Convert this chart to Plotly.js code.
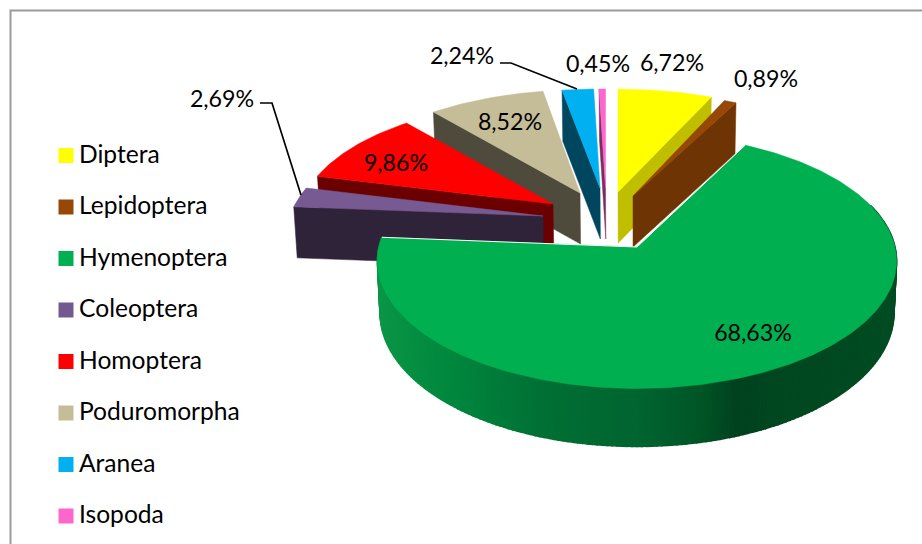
<!DOCTYPE html>
<html>
<head>
<meta charset="utf-8">
<script src="https://cdn.plot.ly/plotly-3.0.1.min.js"></script>
<style>html,body{margin:0;padding:0;background:#fff}#c{width:922px;height:544px}</style>
</head>
<body>
<div id="c"></div>
<script>
// ---- data ----
var categories = ['Diptera','Lepidoptera','Hymenoptera','Coleoptera','Homoptera','Poduromorpha','Aranea','Isopoda'];
var values = [6.72,0.89,68.63,2.69,9.86,8.52,2.24,0.45];

// ---- styles ----
var topColors = ['#FFFF00','#974706','#00B050','#775A92','#FF0000','#C4BD97','#00B0F0','#FF66CC'];
var wallColors = ['#BFBF00','#6F3403','','#2E2339','#6B0000','#4F4B3C','#00465F','#7A2C60'];
var legendColors = ['#FFFF00','#974706','#00B050','#725990','#FF0000','#C4BD97','#00B0F0','#FF66CC'];

// ---- placement of exploded slices (pixel-valued axes) ----
var apexX = [618,633,637,543,553,580,600,605.5];
var apexY = [192,196,247,216,204,193,188,188];
var sliceScale = [1,0.98,1,0.98,0.975,0.975,1,1];
var slicePersp = [0.146,0.146,0.11,0.146,0.146,0.146,0.146,0.146];
var sliceSquash = [0.457,0.469,0.488,0.469,0.469,0.469,0.44,0.44];
var labelX = [672,766,753,222,396,510,462,598];
var labelY = [65,81,335,101,165,124,58,66];
var drawOrder = [0,1,7,6,5,4,3,2];
var radius = 258, depth = 51, font = 'Lato, Carlito, Calibri, sans-serif';

var total = values.reduce(function(a,b){return a+b;},0);
var starts = [], acc = 0;
values.forEach(function(v){ starts.push(acc); acc += v/total*360; });

function proj(i, deg){
  var t = deg*Math.PI/180, c = Math.cos(t), s = 1/(1+slicePersp[i]*c), r = radius*sliceScale[i];
  return [apexX[i]+r*Math.sin(t)*s, apexY[i]-r*sliceSquash[i]*c*s];
}
function drop(p, deg){
  var c = Math.cos(deg*Math.PI/180);
  return [637+(p[0]-637)*0.99, p[1]+depth+7*Math.max(0,-c)];
}
function poly(pts, fill, line, lw){
  var xs = pts.map(function(p){return p[0];}), ys = pts.map(function(p){return p[1];});
  xs.push(xs[0]); ys.push(ys[0]);
  return {type:'scatter',mode:'lines',x:xs,y:ys,fill:'toself',fillcolor:fill,
          line:{color:line||fill,width:lw===undefined?0.5:lw},hoverinfo:'skip',showlegend:false};
}
function apexDrop(i){ return [637+(apexX[i]-637)*0.99, apexY[i]+depth]; }

// shading of the round wall, by horizontal position
var shadeX = [378,450,540,640,700,735,790,897];
var shadeR = [10,0,0,0,0,0,0,0];
var shadeG = [150,135,112,100,85,66,72,76];
var shadeB = [70,62,52,48,38,30,32,34];
function lerp(xs, ys, x){
  for (var k=0;k<xs.length-1;k++){ if (x<=xs[k+1]) { var f=Math.max(0,(x-xs[k])/(xs[k+1]-xs[k])); return ys[k]+f*(ys[k+1]-ys[k]); } }
  return ys[ys.length-1];
}

var traces = [];
drawOrder.forEach(function(i){
  var a = starts[i], b = a+values[i]/total*360, arc = [], d;
  var apex = [apexX[i],apexY[i]], low = apexDrop(i);
  if (a>180) { var p = proj(i,a); traces.push(poly([apex,p,drop(p,a),low],wallColors[i])); }
  if (b<180) { var q = proj(i,b); traces.push(poly([apex,q,drop(q,b),low],wallColors[i])); }
  if (a<180 && b>180) {
    for (d=Math.max(a,70); d<b; d+=1){
      var e = Math.min(d+1,b), p1 = proj(i,d), p2 = proj(i,e), mx = (p1[0]+p2[0])/2;
      var col = 'rgb('+Math.round(lerp(shadeX,shadeR,mx))+','+Math.round(lerp(shadeX,shadeG,mx))+','+Math.round(lerp(shadeX,shadeB,mx))+')';
      traces.push(poly([p1,p2,drop(p2,e),drop(p1,d)],col,col,1.5));
    }
  }
  for (d=a; d<b; d=Math.min(d+1,b)) { arc.push(proj(i,d)); if (d+1>=b) { arc.push(proj(i,b)); break; } }
  traces.push(poly([apex].concat(arc),topColors[i]));
  if (i===2) {
    var e1 = arc[0], e2 = arc[arc.length-1];
    traces.push({type:'scatter',mode:'lines',x:[e1[0],apex[0],e2[0]],y:[e1[1],apex[1],e2[1]],
                 line:{color:'#ffffff',width:1},hoverinfo:'skip',showlegend:false});
  }
});

// leader lines
var leaderAX = [260,272,301], leaderAY = [103,103,195];
var leaderBX = [500,511,577], leaderBY = [63,63,89];
[[leaderAX,leaderAY],[leaderBX,leaderBY]].forEach(function(l){
  traces.push({type:'scatter',mode:'lines',x:l[0],y:l[1],line:{color:'#000',width:1.7},hoverinfo:'skip',showlegend:false});
});

// data labels
traces.push({type:'scatter',mode:'text',x:labelX,y:labelY,
  text:values.map(function(v){return v.toFixed(2).replace('.',',')+'%';}),
  textposition:'middle center',textfont:{family:font,size:23.2,color:'#000'},hoverinfo:'skip',showlegend:false});

// legend
var legendY = categories.map(function(c,i){return 155.5+i*51.5;});
var legendTextY = legendY.map(function(y){return y+1;});
traces.push({type:'scatter',mode:'markers',x:categories.map(function(){return 66;}),y:legendY,
  marker:{symbol:'square',size:15,color:legendColors,line:{width:0}},hoverinfo:'skip',showlegend:false});
traces.push({type:'scatter',mode:'text',x:categories.map(function(){return 79;}),y:legendTextY,text:categories,
  textposition:'middle right',textfont:{family:font,size:24.6,color:'#000'},hoverinfo:'skip',showlegend:false});

// frame
var frameX = [10.5,10.5,922], frameY = [544,10.5,10.5];
traces.push({type:'scatter',mode:'lines',x:frameX,y:frameY,line:{color:'#9a9a9a',width:2},hoverinfo:'skip',showlegend:false});

Plotly.newPlot('c',traces,{
  width:922,height:544,margin:{l:0,r:0,t:0,b:0},
  paper_bgcolor:'#fff',plot_bgcolor:'#fff',showlegend:false,
  xaxis:{range:[0,922],visible:false,fixedrange:true},
  yaxis:{range:[544,0],visible:false,fixedrange:true}
},{displayModeBar:false,staticPlot:true});
</script>
</body>
</html>
